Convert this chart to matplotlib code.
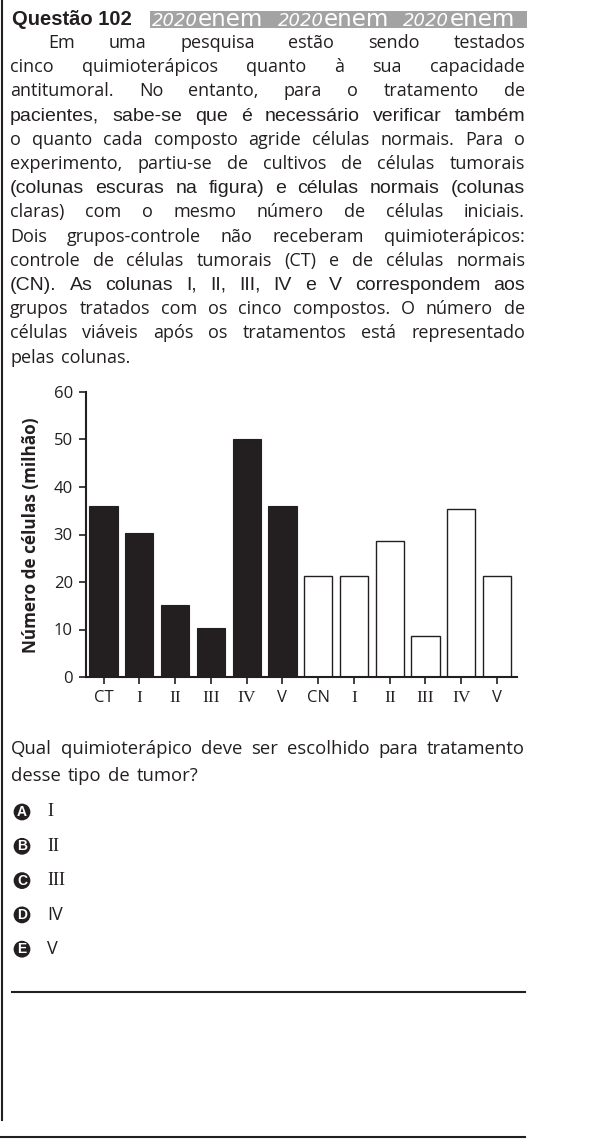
import matplotlib
matplotlib.use('Agg')
import matplotlib.pyplot as plt
from matplotlib.transforms import IdentityTransform
from matplotlib.lines import Line2D
from matplotlib.patches import Rectangle

# dados do gráfico (número de células viáveis, em milhão)
groups = ['CT', 'I', 'II', 'III', 'IV', 'V', 'CN', 'I', 'II', 'III', 'IV', 'V']
tumor_cells = [36.0, 30.3, 15.2, 10.4, 50.2, 36.0]
normal_cells = [21.2, 21.2, 28.6, 8.6, 35.3, 21.2]
yticks = [0, 10, 20, 30, 40, 50, 60]

body_lines = [
    "Em uma pesquisa estão sendo testados",
    "cinco quimioterápicos quanto à sua capacidade",
    "antitumoral. No entanto, para o tratamento de",
    "pacientes, sabe-se que é necessário verificar também",
    "o quanto cada composto agride células normais. Para o",
    "experimento, partiu-se de cultivos de células tumorais",
    "(colunas escuras na figura) e células normais (colunas",
    "claras) com o mesmo número de células iniciais.",
    "Dois grupos-controle não receberam quimioterápicos:",
    "controle de células tumorais (CT) e de células normais",
    "(CN). As colunas I, II, III, IV e V correspondem aos",
    "grupos tratados com os cinco compostos. O número de",
    "células viáveis após os tratamentos está representado",
    "pelas colunas.",
]
body_fonts = ['Open Sans', 'Open Sans', 'Open Sans', 'Liberation Sans', 'Open Sans',
              'Open Sans', 'Liberation Sans', 'Open Sans', 'Open Sans', 'Open Sans',
              'Liberation Sans', 'Open Sans', 'Open Sans', 'Open Sans']
question_lines = ["Qual quimioterápico deve ser escolhido para tratamento",
                  "desse tipo de tumor?"]
option_letters = ['A', 'B', 'C', 'D', 'E']
option_texts = ['I', 'II', 'III', 'IV', 'V']

W, H = 591, 1145
DARK = '#231f20'
fig = plt.figure(figsize=(W / 100, H / 100), dpi=100)
renderer = fig.canvas.get_renderer()


def px_text(x, y, s, **kw):
    """texto em coordenadas de pixel (origem no topo)"""
    return fig.text(x, H - y, s, transform=IdentityTransform(), **kw)


def justify_line(line, y, x0, x1, family, size, stretch=True):
    words = line.split()
    texts = [px_text(x0, y, w, family=family, fontsize=size, color=DARK,
                     va='baseline', ha='left') for w in words]
    widths = [t.get_window_extent(renderer).width for t in texts]
    space = size * 100 / 72 * 0.27
    if stretch and len(words) > 1:
        gap = (x1 - x0 - sum(widths)) / (len(words) - 1)
        # se não couber, diminui a fonte
        while gap < space * 0.8 and size > 8:
            size -= 0.25
            for t in texts:
                t.set_fontsize(size)
            widths = [t.get_window_extent(renderer).width for t in texts]
            space = size * 100 / 72 * 0.27
            gap = (x1 - x0 - sum(widths)) / (len(words) - 1)
    else:
        gap = space * 1.4
    x = x0
    for t, w in zip(texts, widths):
        t.set_x(x)
        x += w + gap


# cabeçalho
px_text(12, 25, 'Questão 102', family='Liberation Sans', fontweight='bold',
        fontsize=14.5, color=DARK, va='baseline')
banner_x0, banner_x1 = 150, 527
fig.add_artist(Rectangle((banner_x0, H - 28), banner_x1 - banner_x0, 17,
                         transform=IdentityTransform(), facecolor='#a3a3a3', edgecolor='none'))
seg = (banner_x1 - banner_x0) / 3
for k in range(3):
    t1 = px_text(banner_x0 + 2 + k * seg, 26, '2020', family='DejaVu Sans', fontstyle='italic',
                 fontweight='light', fontsize=13, color='white', va='baseline')
    w1 = t1.get_window_extent(renderer).width
    px_text(banner_x0 + 2 + k * seg + w1, 26, 'enem', family='DejaVu Sans',
            fontsize=16.5, color='white', va='baseline')

# enunciado
for i, line in enumerate(body_lines):
    y = 48 + i * 24.2
    x0 = 48 if i == 0 else 10
    size = 14 if body_fonts[i] == 'Liberation Sans' else 13
    justify_line(line, y, x0, 525, body_fonts[i], size, stretch=(i < len(body_lines) - 1))

# gráfico
ax = fig.add_axes([85.7 / W, 1 - 677 / H, 431 / W, 285 / H])
ax.bar(range(6), tumor_cells, width=0.79, color=DARK, edgecolor=DARK, linewidth=0.8)
ax.bar(range(6, 12), normal_cells, width=0.79, color='white', edgecolor=DARK, linewidth=1.0)
ax.set_xlim(-0.5, 11.55)
ax.set_ylim(0, 60)
ax.set_yticks(yticks)
ax.set_xticks(range(12))
ax.set_xticklabels(groups)
for i, lab in enumerate(ax.get_xticklabels()):
    if groups[i] in ('CT', 'CN', 'V'):
        lab.set_fontfamily('Open Sans')
        lab.set_fontsize(12)
    else:
        lab.set_fontfamily('Liberation Serif')
        lab.set_fontsize(12.5)
for lab in ax.get_yticklabels():
    lab.set_fontfamily('Open Sans')
    lab.set_fontsize(12)
ax.tick_params(axis='both', direction='out', length=5.3, width=1.2, colors=DARK)
ax.tick_params(axis='y', pad=4)
ax.tick_params(axis='x', pad=4)
for s in ['top', 'right']:
    ax.spines[s].set_visible(False)
for s in ['left', 'bottom']:
    ax.spines[s].set_linewidth(1.5)
    ax.spines[s].set_color(DARK)

px_text(31, 535, 'Número de células (milhão)', family='Open Sans', fontweight='bold',
        fontsize=12.3, color=DARK, rotation=90, ha='center', va='center')

# pergunta
justify_line(question_lines[0], 754, 11, 525, 'Open Sans', 13.3)
justify_line(question_lines[1], 781, 11, 525, 'Open Sans', 13.3, stretch=False)

# alternativas
for i, (letter, txt) in enumerate(zip(option_letters, option_texts)):
    y = 812 + i * 34.3
    px_text(22, y, letter, family='Liberation Sans', fontweight='bold', fontsize=10,
            color='white', ha='center', va='center',
            bbox=dict(boxstyle='circle,pad=0.1', facecolor=DARK, edgecolor='none'))
    fam = 'Liberation Serif' if txt in ('I', 'II', 'III') else 'Open Sans'
    px_text(47, y, txt, family=fam, fontsize=13, color=DARK, ha='left', va='center')

# linhas da página
fig.add_artist(Line2D([2, 2], [H, H - 1120], transform=IdentityTransform(), color=DARK, lw=1.5))
fig.add_artist(Line2D([12, 525], [H - 992, H - 992], transform=IdentityTransform(), color=DARK, lw=1.5))
fig.add_artist(Line2D([0, 525], [H - 1137, H - 1137], transform=IdentityTransform(), color=DARK, lw=1.5))

fig.savefig('out.png', dpi=100)
